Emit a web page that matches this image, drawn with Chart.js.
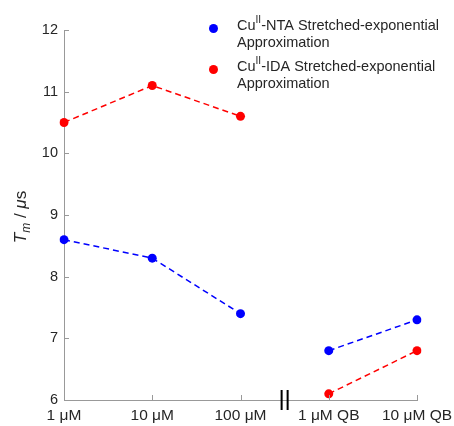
<!DOCTYPE html>
<html>
<head>
<meta charset="utf-8">
<script src="https://cdn.jsdelivr.net/npm/chart.js@4.4.1/dist/chart.umd.min.js"></script>
<style>
  html, body { margin: 0; padding: 0; background: #fff; }
</style>
</head>
<body>
<canvas id="tmChart" width="454" height="426"></canvas>
<script>
const categories = ["1 μM", "10 μM", "100 μM", "1 μM QB", "10 μM QB"];
const ntaValues = [8.6, 8.3, 7.4, 6.8, 7.3];
const idaValues = [10.5, 11.1, 10.6, 6.1, 6.8];
const seriesNames = [
    ["Cu^II-NTA Stretched-exponential", "Approximation"],
    ["Cu^II-IDA Stretched-exponential", "Approximation"]
];
const seriesColors = ["#0000ff", "#ff0000"];
const yTicks = [6, 7, 8, 9, 10, 11, 12];
const breakAfter = 2; // axis break sits between "100 μM" and "1 μM QB"

const FONT = "'Liberation Sans', Arial, sans-serif";
const TEXT = "#262626";
const AXIS = "#999999";

function makeDataset(values, color, name) {
    return {
        label: name.join(" "),
        data: values,
        borderColor: color,
        backgroundColor: color,
        borderWidth: 1.5,
        borderDash: [6, 4],
        pointRadius: 4.5,
        pointBorderWidth: 0,
        pointBackgroundColor: color,
        tension: 0,
        segment: {
            borderColor: ctx => ctx.p0DataIndex === breakAfter ? "transparent" : color
        }
    };
}

// draws text with "^XX" as superscript, returns end x
function drawSupText(ctx, str, x, y, size) {
    const parts = str.split(/\^(\w+)/);
    parts.forEach((p, i) => {
        const sup = i % 2 === 1;
        ctx.font = (sup ? size * 0.7 : size) + "px " + FONT;
        ctx.fillText(p, x, sup ? y - size * 0.42 : y);
        x += ctx.measureText(p).width;
    });
    return x;
}

const matlabLook = {
    id: "matlabLook",
    afterDraw(chart) {
        const ctx = chart.ctx;
        const xs = chart.scales.x, ys = chart.scales.y;
        const area = chart.chartArea;

        // inward tick marks
        ctx.save();
        ctx.strokeStyle = AXIS;
        ctx.lineWidth = 1;
        ctx.beginPath();
        yTicks.forEach(v => {
            const py = Math.round(ys.getPixelForValue(v)) + 0.5;
            ctx.moveTo(area.left, py);
            ctx.lineTo(area.left + 5, py);
        });
        categories.forEach((c, i) => {
            const px = Math.round(xs.getPixelForValue(i)) + 0.5;
            ctx.moveTo(px, area.bottom);
            ctx.lineTo(px, area.bottom - 5);
        });
        ctx.stroke();

        // axis break marks
        const bx = (xs.getPixelForValue(breakAfter) + xs.getPixelForValue(breakAfter + 1)) / 2;
        ctx.strokeStyle = "#000";
        ctx.lineWidth = 2;
        ctx.beginPath();
        [-3, 3].forEach(d => {
            ctx.moveTo(bx + d, area.bottom - 10);
            ctx.lineTo(bx + d, area.bottom + 10);
        });
        ctx.stroke();

        // y axis title: T_m / μs
        ctx.fillStyle = TEXT;
        ctx.textBaseline = "alphabetic";
        ctx.textAlign = "left";
        const pieces = [
            { t: "T", f: "italic 17px " + FONT, dy: 0 },
            { t: "m", f: "italic 12px " + FONT, dy: 4 },
            { t: " / ", f: "17px " + FONT, dy: 0 },
            { t: "μ", f: "italic 17px " + FONT, dy: 0 },
            { t: "s", f: "17px " + FONT, dy: 0 }
        ];
        let total = 0;
        pieces.forEach(p => { ctx.font = p.f; p.w = ctx.measureText(p.t).width; total += p.w; });
        ctx.translate(20, (area.top + area.bottom) / 2 + 2);
        ctx.rotate(-Math.PI / 2);
        let tx = -total / 2;
        pieces.forEach(p => {
            ctx.font = p.f;
            ctx.fillText(p.t, tx, 6 + p.dy);
            tx += p.w;
        });
        ctx.restore();

        // legend
        ctx.save();
        ctx.fillStyle = TEXT;
        ctx.textAlign = "left";
        ctx.textBaseline = "alphabetic";
        const markerYs = [28.5, 69.5];
        seriesNames.forEach((lines, i) => {
            const my = markerYs[i];
            ctx.fillStyle = seriesColors[i];
            ctx.beginPath();
            ctx.arc(213.5, my, 4.5, 0, Math.PI * 2);
            ctx.fill();
            ctx.fillStyle = TEXT;
            lines.forEach((ln, j) => {
                drawSupText(ctx, ln, 237, my + 1 + j * 17, 14.5);
            });
        });
        ctx.restore();
    }
};

new Chart(document.getElementById("tmChart"), {
    type: "line",
    data: {
        labels: categories,
        datasets: [
            makeDataset(ntaValues, seriesColors[0], seriesNames[0]),
            makeDataset(idaValues, seriesColors[1], seriesNames[1])
        ]
    },
    options: {
        responsive: false,
        animation: false,
        layout: { padding: { top: 30, right: 37, left: 0, bottom: 0 } },
        plugins: {
            legend: { display: false },
            tooltip: { enabled: false }
        },
        scales: {
            x: {
                type: "category",
                offset: false,
                grid: { display: false, drawTicks: false },
                border: { color: AXIS, width: 1 },
                ticks: {
                    color: TEXT,
                    font: { family: FONT, size: 15.5 },
                    padding: 6,
                    maxRotation: 0,
                    autoSkip: false
                },
                afterFit: s => {
                    s.height = 26;
                    s.paddingLeft = 0;
                    s.paddingRight = 0;
                }
            },
            y: {
                min: 6,
                max: 12,
                grid: { display: false, drawTicks: false },
                border: { color: AXIS, width: 1 },
                ticks: {
                    stepSize: 1,
                    color: TEXT,
                    font: { family: FONT, size: 14.5 },
                    padding: 6
                },
                afterFit: s => { s.width = 64; }
            }
        }
    },
    plugins: [matlabLook]
});
</script>
</body>
</html>
